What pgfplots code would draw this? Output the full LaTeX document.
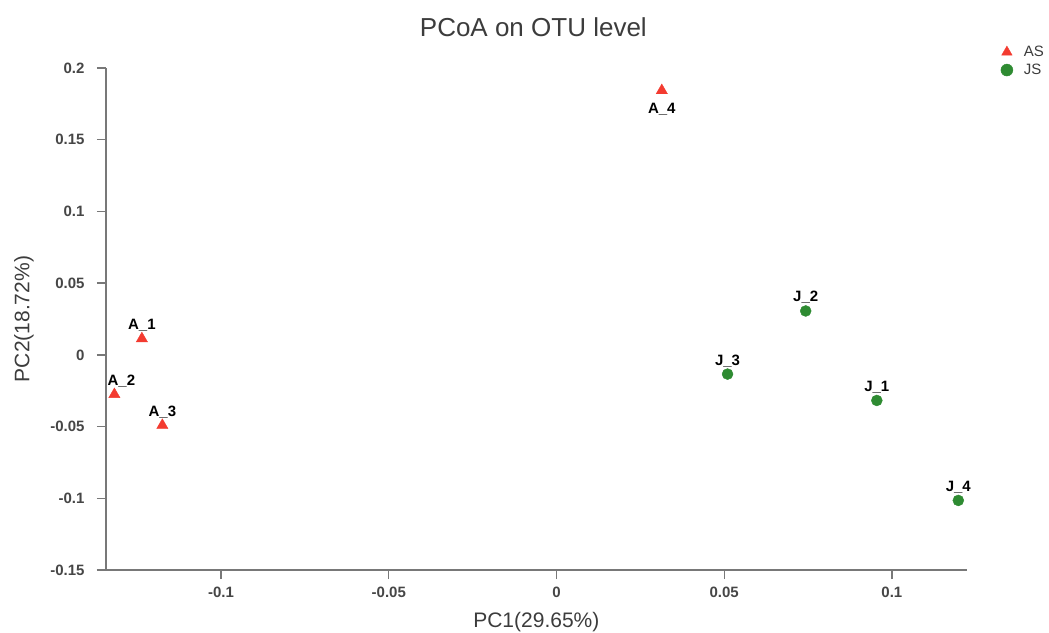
\documentclass[border=0pt]{standalone}
\usepackage{pgfplots}
\pgfplotsset{compat=1.18}
\usepackage{fontspec}
\setmainfont{Liberation Sans}
\definecolor{ptred}{RGB}{243,59,48}
\definecolor{ptgreen}{RGB}{46,139,50}
\definecolor{axgray}{RGB}{120,120,120}
\definecolor{txtgray}{RGB}{60,60,60}
\definecolor{tickgray}{RGB}{70,70,70}
\begin{document}
\begin{tikzpicture}
\path[use as bounding box] (-106pt,-62pt) rectangle (943pt,570pt);
\begin{axis}[
  at={(0pt,0pt)}, anchor=south west,
  scale only axis, width=860.7pt, height=502pt,
  xmin=-0.1343, xmax=0.1223, ymin=-0.15, ymax=0.2,
  axis x line=bottom, axis y line=left,
  axis line style={-, axgray, line width=1.3pt},
  x axis line style={shorten <=-9pt},
  tick align=outside, major tick length=9pt,
  tick style={axgray, line width=1.3pt},
  xtick={-0.1,-0.05,0,0.05,0.1},
  xticklabels={-0.1,-0.05,0,0.05,0.1},
  ytick={-0.15,-0.1,-0.05,0,0.05,0.1,0.15,0.2},
  yticklabels={-0.15,-0.1,-0.05,0,0.05,0.1,0.15,0.2},
  ticklabel style={font=\bfseries\fontsize{15}{17}\selectfont, text=tickgray},
  yticklabel style={xshift=-9pt},
  xticklabel style={yshift=-4pt},
  xlabel={PC1(29.65\%)},
  ylabel={PC2(18.72\%)},
  xlabel style={at={(axis description cs:0.5,0)}, anchor=base, yshift=-57pt, font=\fontsize{21}{24}\selectfont, text=txtgray},
  ylabel style={at={(axis description cs:0,0.5)}, anchor=center, yshift=82pt, font=\fontsize{21}{24}\selectfont, text=txtgray},
  title={PCoA on OTU level},
  title style={at={(axis description cs:0.5,1)}, anchor=base, yshift=25pt, xshift=-3pt, font=\fontsize{26}{30}\selectfont, text=txtgray},
  clip=false,
  legend image code/.code={\draw[#1, mark size=6pt] plot coordinates {(0pt,0pt)}; \path[draw=none] (0pt,0pt) -- (14pt,0pt);},
  legend style={at={(axis description cs:1.0395,1.05)}, anchor=north west, draw=none, fill=none,
    font=\fontsize{15}{17}\selectfont, text=txtgray, row sep=0pt, inner sep=0pt,
    nodes={inner sep=3pt}},
  legend cell align=left,
  every node near coord/.style={font=\bfseries\fontsize{15}{17}\selectfont, text=black, inner sep=0pt},
]
\addplot[only marks, mark=triangle*, mark size=6.5pt, color=ptred,
  nodes near coords, point meta=explicit symbolic,
  nodes near coords style={anchor=base, yshift=9pt}]
  table[meta=label] {
x y label
-0.1236 0.0113 A\_1
-0.1175 -0.0491 A\_3
};
\addlegendentry{AS}
\addplot[only marks, mark=*, mark size=5.5pt, color=ptgreen,
  nodes near coords, point meta=explicit symbolic,
  nodes near coords style={anchor=base, yshift=9pt}]
  table[meta=label] {
x y label
0.0955 -0.0318 J\_1
0.0743 0.0306 J\_2
0.0510 -0.0134 J\_3
0.1198 -0.1015 J\_4
};
\addlegendentry{JS}
\addplot[only marks, mark=triangle*, mark size=6.5pt, color=ptred, forget plot,
  nodes near coords, point meta=explicit symbolic,
  nodes near coords style={anchor=base, yshift=9pt, xshift=7pt}]
  table[meta=label] {
x y label
-0.1318 -0.0276 A\_2
};
\addplot[only marks, mark=triangle*, mark size=6.5pt, color=ptred, forget plot,
  nodes near coords, point meta=explicit symbolic,
  nodes near coords style={anchor=north, yshift=-12pt}]
  table[meta=label] {
x y label
0.0314 0.1843 A\_4
};
\end{axis}
\end{tikzpicture}
\end{document}
